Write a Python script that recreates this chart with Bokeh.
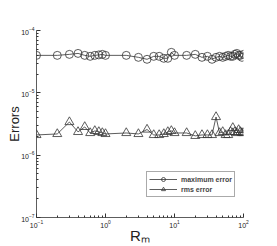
from bokeh.plotting import figure
from bokeh.models import FixedTicker, LogTickFormatter, Legend, LegendItem
from bokeh.embed import file_html
from bokeh.resources import INLINE

rm = [0.1, 0.2, 0.3, 0.4, 0.5, 0.6, 0.7, 0.8, 0.9,
      1, 2, 3, 4, 5, 6, 7, 8, 9, 10,
      15, 20, 25, 30, 35, 40, 45, 50, 55, 60, 65, 70, 75, 80, 85, 90, 95, 100]
max_err = [3.99e-5, 3.99e-5, 4.14e-5, 4.29e-5, 3.99e-5, 3.85e-5, 3.99e-5, 4.06e-5, 4.14e-5,
           3.99e-5, 3.99e-5, 3.71e-5, 3.45e-5, 3.85e-5, 3.85e-5, 3.58e-5, 3.58e-5, 4.46e-5, 3.99e-5,
           3.99e-5, 4.14e-5, 3.71e-5, 3.85e-5, 3.45e-5, 3.71e-5, 3.85e-5, 3.71e-5, 3.85e-5, 3.99e-5,
           3.85e-5, 3.85e-5, 4.14e-5, 4.29e-5, 3.99e-5, 3.99e-5, 3.71e-5, 4.14e-5]
rms_err = [2.11e-6, 2.19e-6, 3.40e-6, 2.36e-6, 2.84e-6, 2.27e-6, 2.45e-6, 2.36e-6, 2.27e-6,
           2.19e-6, 2.27e-6, 2.19e-6, 2.58e-6, 2.11e-6, 2.11e-6, 2.19e-6, 2.36e-6, 2.45e-6, 2.27e-6,
           2.27e-6, 2.04e-6, 2.11e-6, 2.11e-6, 2.11e-6, 4.10e-6, 2.27e-6, 2.36e-6, 2.11e-6, 2.11e-6,
           2.36e-6, 2.74e-6, 2.36e-6, 2.27e-6, 2.54e-6, 2.36e-6, 2.27e-6, 2.27e-6]

x_major = [0.1, 1, 10, 100]
x_minor = [m * d for d in [0.1, 1, 10] for m in range(2, 10)]
y_major = [1e-7, 1e-6, 1e-5, 1e-4]
y_minor = [m * d for d in [1e-7, 1e-6, 1e-5] for m in range(2, 10)]

p = figure(width=277, height=246, x_axis_type="log", y_axis_type="log",
           x_range=(0.1, 100), y_range=(1e-7, 1e-4),
           output_backend="svg", toolbar_location=None,
           min_border_left=36, min_border_right=34, min_border_top=30, min_border_bottom=28)
p.outline_line_color = None
p.grid.visible = False
p.background_fill_color = "white"

p.xaxis.ticker = FixedTicker(ticks=x_major, minor_ticks=x_minor)
p.yaxis.ticker = FixedTicker(ticks=y_major, minor_ticks=y_minor)
p.xaxis.formatter = LogTickFormatter()
p.yaxis.formatter = LogTickFormatter()
for ax in (p.xaxis, p.yaxis):
    ax.major_tick_in = 4
    ax.major_tick_out = 0
    ax.minor_tick_in = 2
    ax.minor_tick_out = 0
    ax.axis_line_color = "#333333"
    ax.axis_line_width = 0.8
    ax.major_tick_line_color = "#333333"
    ax.minor_tick_line_color = "#333333"
    ax.major_label_text_font = "Liberation Sans"
    ax.major_label_text_font_size = "7px"
    ax.major_label_text_color = "#222222"
    ax.major_label_standoff = 2
    ax.axis_label_text_font = "Liberation Sans"
    ax.axis_label_text_font_style = "normal"
    ax.axis_label_text_color = "#222222"

p.yaxis.axis_label = "Errors"
p.yaxis.axis_label_text_font_size = "13px"
p.yaxis.axis_label_standoff = -4
p.xaxis.axis_label = "R\u2098"
p.xaxis.axis_label_text_font_size = "15px"
p.xaxis.axis_label_standoff = -4

l1 = p.line(rm, max_err, line_color="#333333", line_width=0.8)
s1 = p.scatter(rm, max_err, marker="circle", size=8, fill_color=None,
               line_color="#333333", line_width=0.8)
l2 = p.line(rm, rms_err, line_color="#333333", line_width=0.8)
s2 = p.scatter(rm, rms_err, marker="triangle", size=9, fill_color=None,
               line_color="#333333", line_width=0.8)

legend = Legend(items=[LegendItem(label="maximum error", renderers=[l1, s1]),
                       LegendItem(label="rms error", renderers=[l2, s2])],
                location=(110, 20), glyph_width=28, glyph_height=10,
                label_text_font="Liberation Sans", label_text_font_size="7px",
                label_text_font_style="bold", label_height=10, spacing=0,
                padding=2, margin=0, border_line_color="#555555", border_line_width=0.8,
                label_standoff=4)
p.add_layout(legend, "center")

open("out.html", "w").write(file_html(p, INLINE))
